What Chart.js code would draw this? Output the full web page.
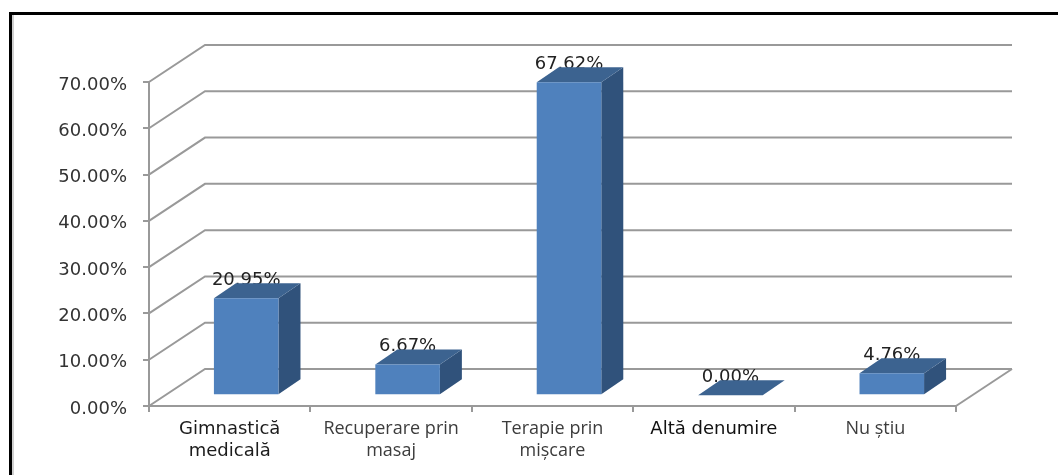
<!DOCTYPE html>
<html lang="ro">
<head>
<meta charset="utf-8">
<title>Denumire</title>
<script src="https://cdn.jsdelivr.net/npm/chart.js@4"></script>
<style>
  html, body { margin: 0; padding: 0; background: #fff; overflow: hidden; }
  canvas { display: block; }
</style>
</head>
<body>
<canvas id="graficoDenumire" width="1058" height="475"></canvas>
<script>
const categorii = [
  ['Gimnastică', 'medicală'],
  ['Recuperare prin', 'masaj'],
  ['Terapie prin', 'mișcare'],
  'Altă denumire',
  'Nu știu'
];
const procente = [20.95, 6.67, 67.62, 0.00, 4.76];

// font and colour of the category labels, one per category
const fonturiCategorii = ['DejaVu Sans', 'Open Sans', 'Open Sans', 'DejaVu Sans', 'Open Sans'];
const coresCategorii = ['#1c1c1c', '#3c3c3c', '#3c3c3c', '#111111', '#3c3c3c'];

// 3D look: depth of the walls and of the bars
const pereteDx = 56, pereteDy = -37;
const baraDx = 22, baraDy = -15;
const podeaDx = 16.5, podeaDy = -10.7;

const corGrila = '#999999';
const corFata = '#4f81bd';
const corLateral = '#30527b';
const corSus = '#3c6390';
const fontValori = '18px "DejaVu Sans"';

const formatProcent = value => value.toFixed(2) + '%';

const fundal3d = {
  id: 'fundal3d',
  beforeDraw(chart) {
    const ctx = chart.ctx;
    // page frame, top and left only
    ctx.save();
    ctx.fillStyle = '#cfcfcf';
    ctx.fillRect(12, 15, 2, 460);
    ctx.fillStyle = '#000';
    ctx.fillRect(9, 12, 1049, 3);
    ctx.fillRect(9, 12, 3, 463);
    ctx.restore();
  },
  beforeDatasetsDraw(chart) {
    const { ctx, chartArea, scales } = chart;
    ctx.save();
    ctx.strokeStyle = corGrila;
    ctx.lineWidth = 2;
    // grid lines run up the side wall and then across the back wall
    scales.y.ticks.forEach(tick => {
      const y = scales.y.getPixelForValue(tick.value);
      ctx.beginPath();
      ctx.moveTo(chartArea.left, y);
      ctx.lineTo(chartArea.left + pereteDx, y + pereteDy);
      ctx.lineTo(chartArea.right + pereteDx, y + pereteDy);
      ctx.stroke();
    });
    // right edge of the floor
    ctx.beginPath();
    ctx.moveTo(chartArea.right, chartArea.bottom);
    ctx.lineTo(chartArea.right + pereteDx, chartArea.bottom + pereteDy);
    ctx.stroke();

    // y labels, set on the baseline so they sit just under their tick
    ctx.font = fontValori;
    ctx.fillStyle = '#333';
    ctx.textAlign = 'right';
    ctx.textBaseline = 'alphabetic';
    scales.y.ticks.forEach(tick => {
      ctx.fillText(formatProcent(tick.value), 127, scales.y.getPixelForValue(tick.value) + 7.5);
    });
    ctx.restore();
  },
  beforeDatasetDraw(chart, args) {
    const ctx = chart.ctx;
    const bare = chart.getDatasetMeta(args.index).data;

    // value labels go first, the bar tops partly cover them
    ctx.save();
    ctx.font = fontValori;
    ctx.fillStyle = '#222';
    ctx.textAlign = 'center';
    ctx.textBaseline = 'alphabetic';
    bare.forEach((bar, i) => {
      ctx.fillText(formatProcent(procente[i]), bar.x + podeaDx, bar.y + podeaDy - 13.5);
    });
    ctx.restore();

    // side and top faces
    ctx.save();
    ctx.translate(podeaDx, podeaDy);
    bare.forEach(bar => {
      const st = bar.x - bar.width / 2;
      const dr = bar.x + bar.width / 2;

      ctx.fillStyle = corLateral;
      ctx.beginPath();
      ctx.moveTo(dr, bar.base);
      ctx.lineTo(dr + baraDx, bar.base + baraDy);
      ctx.lineTo(dr + baraDx, bar.y + baraDy);
      ctx.lineTo(dr, bar.y);
      ctx.closePath();
      ctx.fill();

      ctx.fillStyle = corSus;
      ctx.beginPath();
      ctx.moveTo(st, bar.y);
      ctx.lineTo(st + baraDx, bar.y + baraDy);
      ctx.lineTo(dr + baraDx, bar.y + baraDy);
      ctx.lineTo(dr, bar.y);
      ctx.closePath();
      ctx.fill();
    });
    ctx.restore();

    // the front face is the normal bar, moved back onto the floor
    ctx.save();
    ctx.translate(podeaDx, podeaDy);
  },
  afterDatasetDraw(chart) {
    chart.ctx.restore();
  }
};

new Chart(document.getElementById('graficoDenumire'), {
  type: 'bar',
  plugins: [fundal3d],
  data: {
    labels: categorii,
    datasets: [{
      data: procente,
      backgroundColor: corFata,
      borderWidth: 0,
      barPercentage: 0.4,
      categoryPercentage: 1
    }]
  },
  options: {
    responsive: false,
    animation: false,
    layout: { padding: { top: 82, right: 102, bottom: 0, left: 0 } },
    plugins: {
      legend: { display: false },
      tooltip: { enabled: false }
    },
    scales: {
      x: {
        afterFit(scale) { scale.height = 69; },
        border: { display: true, color: corGrila, width: 2 },
        grid: { drawOnChartArea: false, drawTicks: true, tickLength: 6, color: corGrila, lineWidth: 2 },
        ticks: {
          autoSkip: false,
          maxRotation: 0,
          padding: 6,
          color: ctx => coresCategorii[ctx.index],
          font: ctx => ({ family: fonturiCategorii[ctx.index], size: 18, lineHeight: 1.22 })
        }
      },
      y: {
        min: 0,
        max: 70,
        afterFit(scale) { scale.width = 149; },
        border: { display: true, color: corGrila, width: 2 },
        grid: { drawOnChartArea: false, drawTicks: true, tickLength: 6, color: corGrila, lineWidth: 2 },
        ticks: {
          stepSize: 10,
          display: false
        }
      }
    }
  }
});
</script>
</body>
</html>
